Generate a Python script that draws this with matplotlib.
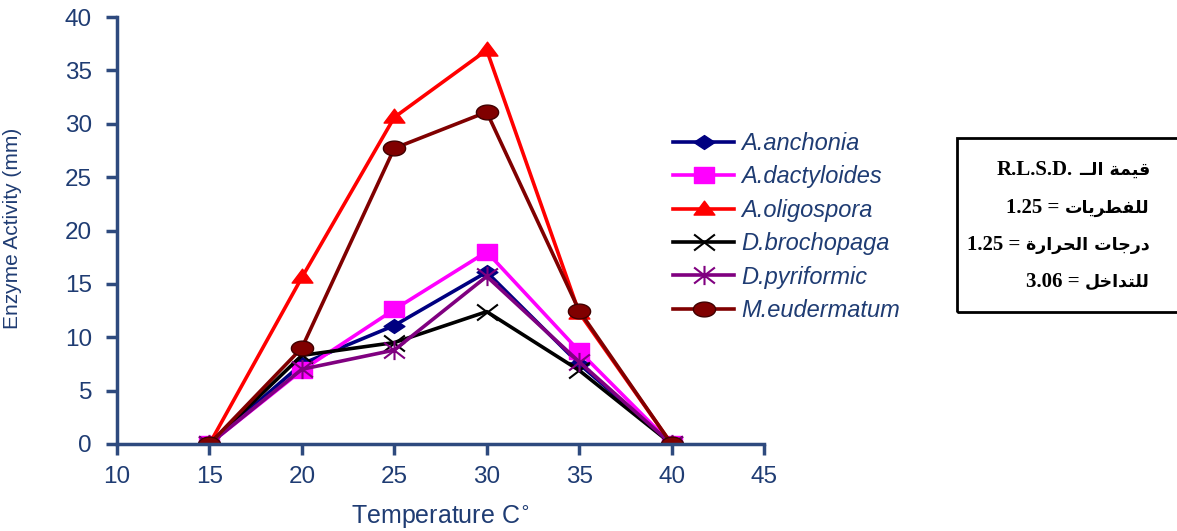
import numpy as np
import matplotlib
matplotlib.use("Agg")
import matplotlib.pyplot as plt
from matplotlib.path import Path
from matplotlib.patches import Rectangle

# data
temps = [15, 20, 25, 30, 35, 40]
anchonia = [0, 7.5, 11.1, 16.1, 7.5, 0]
dactyloides = [0, 6.9, 12.6, 18.0, 8.7, 0]
oligospora = [0, 15.6, 30.6, 36.9, 12.3, 0]
brochopaga = [0, 8.3, 9.5, 12.4, 6.9, 0]
pyriformic = [0, 7.0, 8.8, 15.7, 7.7, 0]
eudermatum = [0, 9.0, 27.7, 31.1, 12.5, 0]
names = ['A.anchonia', 'A.dactyloides', 'A.oligospora', 'D.brochopaga',
         'D.pyriformic', 'M.eudermatum']

rlsd_head = 'قيمة الــ'
rlsd_labels = ['للفطريات', 'درجات الحرارة', 'للتداخل']
rlsd_values = ['1.25', '1.25', '3.06']

# minimal arabic shaping (presentation forms, visual order)
FORMS = {
    'ا': ('\uFE8D', '\uFE8E', None, None),
    'ت': ('\uFE95', '\uFE96', '\uFE97', '\uFE98'),
    'ة': ('\uFE93', '\uFE94', None, None),
    'ج': ('\uFE9D', '\uFE9E', '\uFE9F', '\uFEA0'),
    'ح': ('\uFEA1', '\uFEA2', '\uFEA3', '\uFEA4'),
    'خ': ('\uFEA5', '\uFEA6', '\uFEA7', '\uFEA8'),
    'د': ('\uFEA9', '\uFEAA', None, None),
    'ر': ('\uFEAD', '\uFEAE', None, None),
    'ط': ('\uFEC1', '\uFEC2', '\uFEC3', '\uFEC4'),
    'ف': ('\uFED1', '\uFED2', '\uFED3', '\uFED4'),
    'ق': ('\uFED5', '\uFED6', '\uFED7', '\uFED8'),
    'ل': ('\uFEDD', '\uFEDE', '\uFEDF', '\uFEE0'),
    'م': ('\uFEE1', '\uFEE2', '\uFEE3', '\uFEE4'),
    'ي': ('\uFEF1', '\uFEF2', '\uFEF3', '\uFEF4'),
    'ـ': ('\u0640', '\u0640', '\u0640', '\u0640'),
}

def shape(word):
    out = []
    for i, c in enumerate(word):
        if c not in FORMS:
            out.append(c)
            continue
        f = FORMS[c]
        prev = word[i - 1] if i > 0 else ''
        nxt = word[i + 1] if i + 1 < len(word) else ''
        jp = prev in FORMS and FORMS[prev][2] is not None
        jn = f[2] is not None and nxt in FORMS
        if jp and jn:
            out.append(f[3])
        elif jp:
            out.append(f[1])
        elif jn:
            out.append(f[2])
        else:
            out.append(f[0])
    return ''.join(reversed(out))

# stretched markers (the original is squashed horizontally wide)
t = np.linspace(0, 2 * np.pi, 40)
m_ellipse = Path(np.column_stack([1.5 * np.cos(t), np.sin(t)]), closed=True)
m_diamond = Path([(-1.5, 0), (0, 1), (1.5, 0), (0, -1), (-1.5, 0)], closed=True)
m_square = Path([(-1.35, -1), (1.35, -1), (1.35, 1), (-1.35, 1), (-1.35, -1)], closed=True)
m_tri = Path([(-1.5, -0.8), (1.5, -0.8), (0, 1.2), (-1.5, -0.8)], closed=True)
m_x = Path([(-1.3, -1), (1.3, 1), (-1.3, 1), (1.3, -1)],
           [Path.MOVETO, Path.LINETO, Path.MOVETO, Path.LINETO])
m_ast = Path([(-1.3, -1), (1.3, 1), (-1.3, 1), (1.3, -1), (0, -1.2), (0, 1.2)],
             [Path.MOVETO, Path.LINETO, Path.MOVETO, Path.LINETO, Path.MOVETO, Path.LINETO])

navy_txt = '#1F3C73'
spine_c = '#2E4A7E'

fig = plt.figure(figsize=(11.77, 5.31), dpi=100)
ax = fig.add_axes([117 / 1177, 87 / 531, (764 - 117) / 1177, (444 - 17) / 531])

lw = 2.6
ax.plot(temps, anchonia, color='#000080', lw=lw, marker=m_diamond, ms=15,
        mfc='#000080', mec='#000080', label=names[0])
ax.plot(temps, dactyloides, color='#FF00FF', lw=lw, marker=m_square, ms=15,
        mfc='#FF00FF', mec='#FF00FF', label=names[1])
ax.plot(temps, oligospora, color='#FF0000', lw=lw, marker=m_tri, ms=15,
        mfc='#FF0000', mec='#FF0000', label=names[2])
ax.plot(temps, brochopaga, color='black', lw=lw, marker=m_x, ms=15,
        mec='black', mew=1.5, label=names[3])
ax.plot(temps, pyriformic, color='#800080', lw=lw, marker=m_ast, ms=15,
        mec='#800080', mew=1.5, label=names[4])
ax.plot(temps, eudermatum, color='#800000', lw=lw, marker=m_ellipse, ms=16,
        mfc='#800000', mec='#400000', mew=1, label=names[5])

ax.set_xlim(10, 45)
ax.set_ylim(0, 40)
ax.set_xticks(range(10, 46, 5))
ax.set_yticks(range(0, 41, 5))
for s in ['top', 'right']:
    ax.spines[s].set_visible(False)
for s in ['left', 'bottom']:
    ax.spines[s].set_color(spine_c)
    ax.spines[s].set_linewidth(2.5)
ax.tick_params(direction='out', length=8, width=2.5, color=spine_c,
               labelcolor=navy_txt, labelsize=17.5)
ax.tick_params(axis='x', pad=8)
ax.tick_params(axis='y', pad=10)
for lab in ax.get_xticklabels() + ax.get_yticklabels():
    lab.set_family('Liberation Sans')

ax.set_xlabel('Temperature C$^{\\circ}$', fontsize=18, color=navy_txt,
              family='Liberation Sans')
ax.xaxis.set_label_coords(0.5, -0.14)
ax.set_ylabel('Enzyme Activity (mm)', fontsize=15, color=navy_txt,
              family='Liberation Sans')
ax.yaxis.set_label_coords(-0.147, 0.506)

leg = fig.legend(loc='upper left', bbox_to_anchor=(673 / 1177, 1 - 132 / 531),
                 frameon=False, handlelength=2.6, handletextpad=0.3,
                 labelspacing=0.44, borderpad=0, borderaxespad=0,
                 prop={'family': 'Liberation Sans', 'style': 'italic', 'size': 17})
for txt in leg.get_texts():
    txt.set_color(navy_txt)

# R.L.S.D. box
fig.patches.append(Rectangle((957 / 1177, 1 - 312 / 531), 0.3, 174 / 531,
                             transform=fig.transFigure, fill=False,
                             edgecolor='black', lw=2))
renderer = fig.canvas.get_renderer()
left_parts = ['R.L.S.D.'] + [v + ' =' for v in rlsd_values]
right_parts = [shape(rlsd_head)] + [shape(l) for l in rlsd_labels]
baselines = [175, 213, 250, 287]
for lp, rp, yb in zip(left_parts, right_parts, baselines):
    yf = 1 - yb / 531
    ar = fig.text(1150 / 1177, yf, rp, ha='right', va='baseline',
                  fontsize=12.5, weight='bold', family='DejaVu Sans',
                  color='black')
    x0 = ar.get_window_extent(renderer).x0
    fig.text((x0 - 6) / 1177, yf, lp, ha='right', va='baseline',
             fontsize=15, weight='bold', family='Liberation Serif',
             color='black')

fig.savefig('out.png', dpi=100)
